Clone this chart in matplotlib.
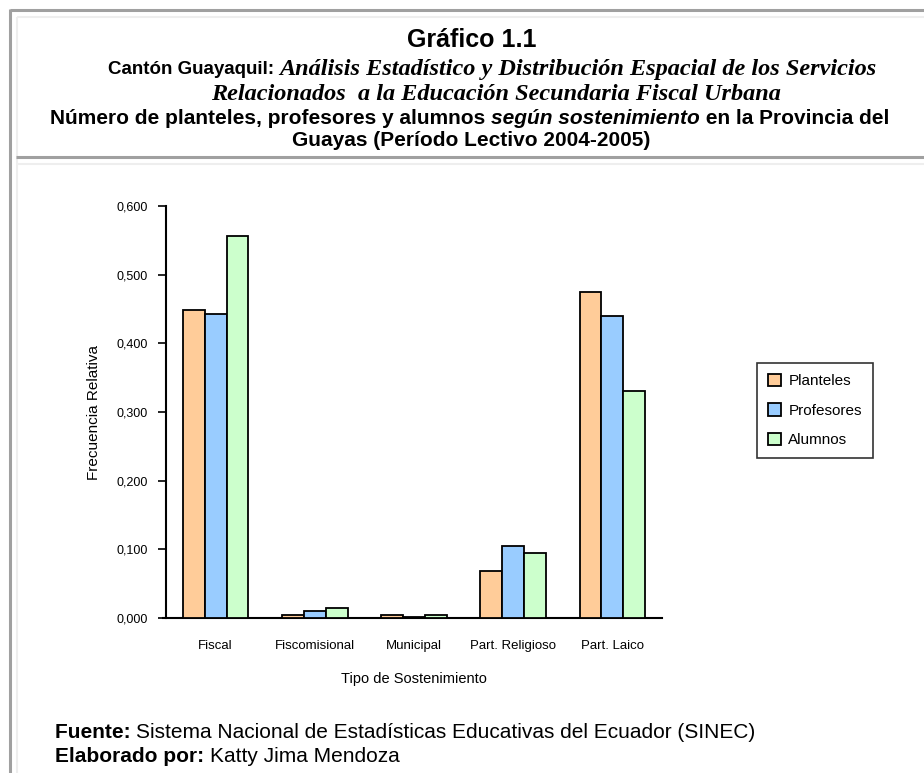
import matplotlib
matplotlib.use("Agg")
import matplotlib.pyplot as plt
import numpy as np
from matplotlib.lines import Line2D

# datos
categorias = ["Fiscal", "Fiscomisional", "Municipal", "Part. Religioso", "Part. Laico"]
planteles = [0.448, 0.005, 0.005, 0.068, 0.475]
profesores = [0.443, 0.010, 0.002, 0.105, 0.440]
alumnos = [0.557, 0.015, 0.005, 0.095, 0.330]
series = ["Planteles", "Profesores", "Alumnos"]
colores = ["#FFCC99", "#99CCFF", "#CCFFCC"]
yticks = [0.0, 0.1, 0.2, 0.3, 0.4, 0.5, 0.6]

W, H = 924, 773
fig = plt.figure(figsize=(W / 100, H / 100), dpi=100)
plt.rcParams['font.family'] = ['Liberation Sans', 'DejaVu Sans']
rend = fig.canvas.get_renderer()


def px(x, y):
    return x / W, 1 - y / H


def linea(x0, y0, x1, y1, color, lw):
    a, b = px(x0, y0)
    c, d = px(x1, y1)
    fig.add_artist(Line2D([a, c], [b, d], color=color, lw=lw, solid_capstyle='butt'))


def renglon(x0, y, trozos, centro=None):
    # trozos: lista de (texto, kwargs); se colocan uno tras otro
    objs = []
    x = x0
    for txt, kw in trozos:
        t = fig.text(*px(x, y), txt, ha='left', va='center', **kw)
        w = t.get_window_extent(rend).width
        objs.append((t, x))
        x += w
    if centro is not None:
        dx = centro - (x0 + x) / 2
        for t, xx in objs:
            t.set_position(px(xx + dx, y))


# marcos
linea(10, 10, 924, 10, "#A0A0A0", 2.2)
linea(10, 9, 10, 773, "#A0A0A0", 2.2)
linea(17, 17, 924, 17, "#EEEEEE", 1.5)
linea(17, 17, 17, 773, "#EEEEEE", 1.5)
linea(16, 157, 924, 157, "#A0A0A0", 2.2)
linea(17, 164, 924, 164, "#EEEEEE", 1.5)

# encabezado
negrita = dict(fontsize=15, fontweight='bold')
serif = dict(fontsize=17.5, fontweight='bold', style='italic', family=['Liberation Serif'])
fig.text(*px(472, 40), "Gráfico 1.1", ha='center', va='center', fontsize=18, fontweight='bold')
renglon(108, 70, [("Cantón Guayaquil: ", dict(fontsize=13.5, fontweight='bold')),
                  ("Análisis Estadístico y Distribución Espacial de los Servicios", serif)])
renglon(0, 95, [("Relacionados  a la Educación Secundaria Fiscal Urbana", serif)], centro=496)
renglon(0, 119, [("Número de planteles, profesores y alumnos ", negrita),
                 ("según sostenimiento", dict(negrita, style='italic')),
                 (" en la Provincia del", negrita)], centro=470)
renglon(0, 141, [("Guayas (Período Lectivo 2004-2005)", negrita)], centro=471)

# grafico de barras
l, b = px(166, 618)
r, t = px(662, 206)
ax = fig.add_axes([l, b, r - l, t - b])
x = np.arange(len(categorias))
ancho = 0.22
for i, (vals, nombre, col) in enumerate(zip([planteles, profesores, alumnos], series, colores)):
    ax.bar(x + (i - 1) * ancho, vals, ancho, color=col, edgecolor='black', linewidth=1.3,
           label=nombre, zorder=3)

ax.set_xlim(-0.5, 4.5)
ax.set_ylim(0, 0.6)
ax.set_yticks(yticks)
ax.set_yticklabels([f"{v:.3f}".replace(".", ",") for v in yticks], fontsize=9)
ax.set_xticks(x)
ax.set_xticklabels(categorias, fontsize=9.5)
ax.tick_params(axis='x', length=0, pad=16)
ax.tick_params(axis='y', length=6, width=1.2, pad=7)
ax.spines['top'].set_visible(False)
ax.spines['right'].set_visible(False)
ax.spines['left'].set_linewidth(1.5)
ax.spines['bottom'].set_linewidth(1.5)
ax.spines['bottom'].set_bounds(-0.53, 4.5)
ax.set_ylabel("Frecuencia Relativa", fontsize=11, labelpad=11)
ax.set_xlabel("Tipo de Sostenimiento", fontsize=10.5, labelpad=14)

leg = ax.legend(loc='upper left', bbox_to_anchor=px(757, 363),
                bbox_transform=fig.transFigure, fontsize=11, frameon=True, fancybox=False,
                edgecolor='black', handlelength=0.85, handleheight=0.85, handletextpad=0.5,
                labelspacing=1.0, borderpad=0.7, borderaxespad=0)
leg.get_frame().set_linewidth(1.2)

# pie
renglon(55, 733, [("Fuente: ", dict(fontsize=15, fontweight='bold')),
                  ("Sistema Nacional de Estadísticas Educativas del Ecuador (SINEC)", dict(fontsize=15))])
renglon(55, 756, [("Elaborado por: ", dict(fontsize=15, fontweight='bold')),
                  ("Katty Jima Mendoza", dict(fontsize=15))])

fig.savefig("out.png", dpi=100)
